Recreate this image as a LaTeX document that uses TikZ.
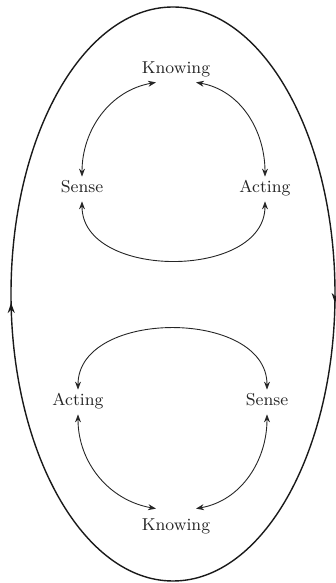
\documentclass[tikz,border=0pt]{standalone}
\usepackage{tikz}
\usetikzlibrary{arrows.meta, positioning, decorations.markings}

\begin{document}
\begin{tikzpicture}[x=0.5pt, y=0.5pt,
  word/.style={inner sep=2pt, text height=6pt, text depth=2pt, font=\fontsize{8.6}{10}\selectfont, text=black!85},
  link/.style={{Stealth[length=4pt,width=3pt]}-{Stealth[length=4pt,width=3pt]}, line width=0.45pt, black!85},
  ring/.style={line width=0.7pt, black!90, postaction={decorate}}]
\useasboundingbox (0,0) rectangle (336,583);

% Outer ring
\draw[ring, decoration={markings, mark=at position 0.4875 with {\arrow{Stealth[length=5pt,width=3.5pt]}}}]
  (173,2) arc[start angle=270, end angle=90, x radius=162, y radius=287];
\draw[ring, decoration={markings, mark=at position 0.5125 with {\arrow{Stealth[length=5pt,width=3.5pt]}}}]
  (173,576) arc[start angle=90, end angle=-90, x radius=162, y radius=287];

% Upper cycle
\node[word] (knowA) at (176,513) {Knowing};
\node[word] (senseA) at (82,394) {Sense};
\node[word] (actA) at (265,394) {Acting};

\draw[link] (senseA.north) to[out=90, in=190] ([xshift=-10pt]knowA.south);
\draw[link] ([xshift=10pt]knowA.south) to[out=-10, in=90] (actA.north);
\draw[link] (senseA.south) to[out=-90, in=-90, looseness=1.1] (actA.south);

% Lower cycle
\node[word] (knowB) at (176,56) {Knowing};
\node[word] (actB) at (78,181) {Acting};
\node[word] (senseB) at (267,181) {Sense};

\draw[link] (actB.north) to[out=90, in=90, looseness=1.1] (senseB.north);
\draw[link] (actB.south) to[out=-90, in=170] ([xshift=-10pt, yshift=3pt]knowB.north);
\draw[link] (senseB.south) to[out=-90, in=10] ([xshift=10pt, yshift=3pt]knowB.north);
\end{tikzpicture}
\end{document}
